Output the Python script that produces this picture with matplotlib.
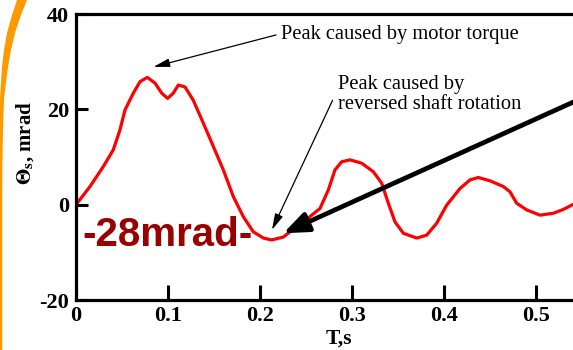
import matplotlib
matplotlib.use("Agg")
import matplotlib.pyplot as plt
from matplotlib.patches import Polygon

# shaft twist angle vs time
t = [0.0, 0.0152, 0.0297, 0.0405, 0.0478, 0.0533, 0.0623, 0.0696, 0.0775,
     0.0859, 0.0931, 0.0996, 0.1058, 0.1112, 0.1185, 0.1275, 0.1384, 0.1493,
     0.1601, 0.171, 0.1818, 0.1927, 0.2036, 0.2127, 0.2253, 0.2399, 0.2543,
     0.2652, 0.2743, 0.2815, 0.2888, 0.2978, 0.3105, 0.3232, 0.3323, 0.3395,
     0.3467, 0.3558, 0.3703, 0.3812, 0.392, 0.4029, 0.4174, 0.4283, 0.4373,
     0.45, 0.4645, 0.4717, 0.479, 0.4899, 0.5043, 0.5188, 0.5297, 0.5388, 0.55]
theta = [0.0, 3.8, 8.0, 11.5, 15.7, 19.9, 23.4, 25.8, 26.7,
         25.5, 23.4, 22.3, 23.4, 25.1, 24.7, 21.9, 17.1, 12.2,
         7.3, 1.7, -2.5, -5.7, -7.0, -7.4, -6.8, -4.6, -2.5,
         -0.8, 3.1, 7.3, 9.0, 9.4, 8.7, 6.9, 4.5, 0.3,
         -3.6, -6.0, -7.0, -6.4, -3.9, -0.1, 3.4, 5.2, 5.7,
         5.0, 3.8, 2.7, 0.3, -1.1, -2.2, -1.8, -1.0, -0.1, 1.0]

x_ticks = [0, 0.1, 0.2, 0.3, 0.4, 0.5]
x_tick_labels = ["0", "0.1", "0.2", "0.3", "0.4", "0.5"]
y_ticks = [-20, 0, 20, 40]
y_tick_labels = ["-20", "0", "20", "40"]

W, H = 573, 350
fig = plt.figure(figsize=(W / 100, H / 100), dpi=100)
plt.rc("mathtext", fontset="stix")

ax = fig.add_axes([76 / W, 50 / H, 552 / W, 286 / H])
ax.plot(t, theta, color="#ff0000", lw=2.3, solid_capstyle="round",
        solid_joinstyle="round")
ax.set_xlim(0, 0.6)
ax.set_ylim(-20, 40)

serif = "Liberation Serif"
ax.set_xticks(x_ticks)
ax.set_xticklabels(x_tick_labels, fontfamily=serif, fontweight="bold", fontsize=16)
ax.set_yticks(y_ticks)
ax.set_yticklabels(y_tick_labels, fontfamily=serif, fontweight="bold", fontsize=16)
ax.tick_params(axis="x", direction="in", length=10.5, width=2.2, pad=4)
ax.tick_params(axis="y", direction="in", length=8.5, width=2.2, pad=5)
for s in ax.spines.values():
    s.set_linewidth(2.3)

ax.set_xlabel("T,s", fontfamily=serif, fontweight="bold", fontsize=15.5)
ax.xaxis.set_label_coords(0.476, -0.1)
ax.set_ylabel(r"$\mathbf{\Theta}_{\mathbf{s}}$, mrad", fontfamily=serif,
              fontweight="bold", fontsize=15)
ax.yaxis.set_label_coords(-0.072, 0.55)

# annotations
ax.text(0.2228, 35.6, "Peak caused by motor torque", fontfamily=serif,
        fontsize=14.8, ha="left", va="center")
ax.annotate("", xy=(0.0842, 28.9), xytext=(0.2174, 35.6),
            arrowprops=dict(arrowstyle="-|>,head_length=0.7,head_width=0.18",
                            color="black", lw=0.9, mutation_scale=14,
                            shrinkA=0, shrinkB=0))
ax.text(0.2848, 23.1, "Peak caused by\nreversed shaft rotation", fontfamily=serif,
        fontsize=14.8, ha="left", va="center", linespacing=1.05)
ax.annotate("", xy=(0.2130, -5.3), xytext=(0.2789, 21.9),
            arrowprops=dict(arrowstyle="-|>,head_length=0.7,head_width=0.18",
                            color="black", lw=0.9, mutation_scale=14,
                            shrinkA=0, shrinkB=0))
ax.annotate("", xy=(0.2253, -6.0), xytext=(0.570, 24.1),
            annotation_clip=False,
            arrowprops=dict(arrowstyle="-|>,head_length=0.75,head_width=0.3",
                            color="black", lw=3.4, mutation_scale=20,
                            shrinkA=0, shrinkB=0))
ax.text(0.0065, -6.4, "-28mrad-", fontfamily="Liberation Sans", fontweight="bold",
        fontsize=29, color="#990000", ha="left", va="center")

# orange slide border on the left
outer = [(17, 0), (12, 15), (7, 33), (4, 50), (2, 67), (0.5, 90), (0, 100), (0, 350)]
inner = [(2.3, 350), (2.3, 167), (3, 130), (4, 100), (5, 90), (8, 67), (11, 50),
         (15, 33), (21, 15), (27, 0)]
pts = [(x / W, 1 - y / H) for x, y in outer + inner]
fig.patches.append(Polygon(pts, closed=True, facecolor="#ff9900", edgecolor="none",
                           transform=fig.transFigure, figure=fig))

fig.savefig("out.png", dpi=100)
